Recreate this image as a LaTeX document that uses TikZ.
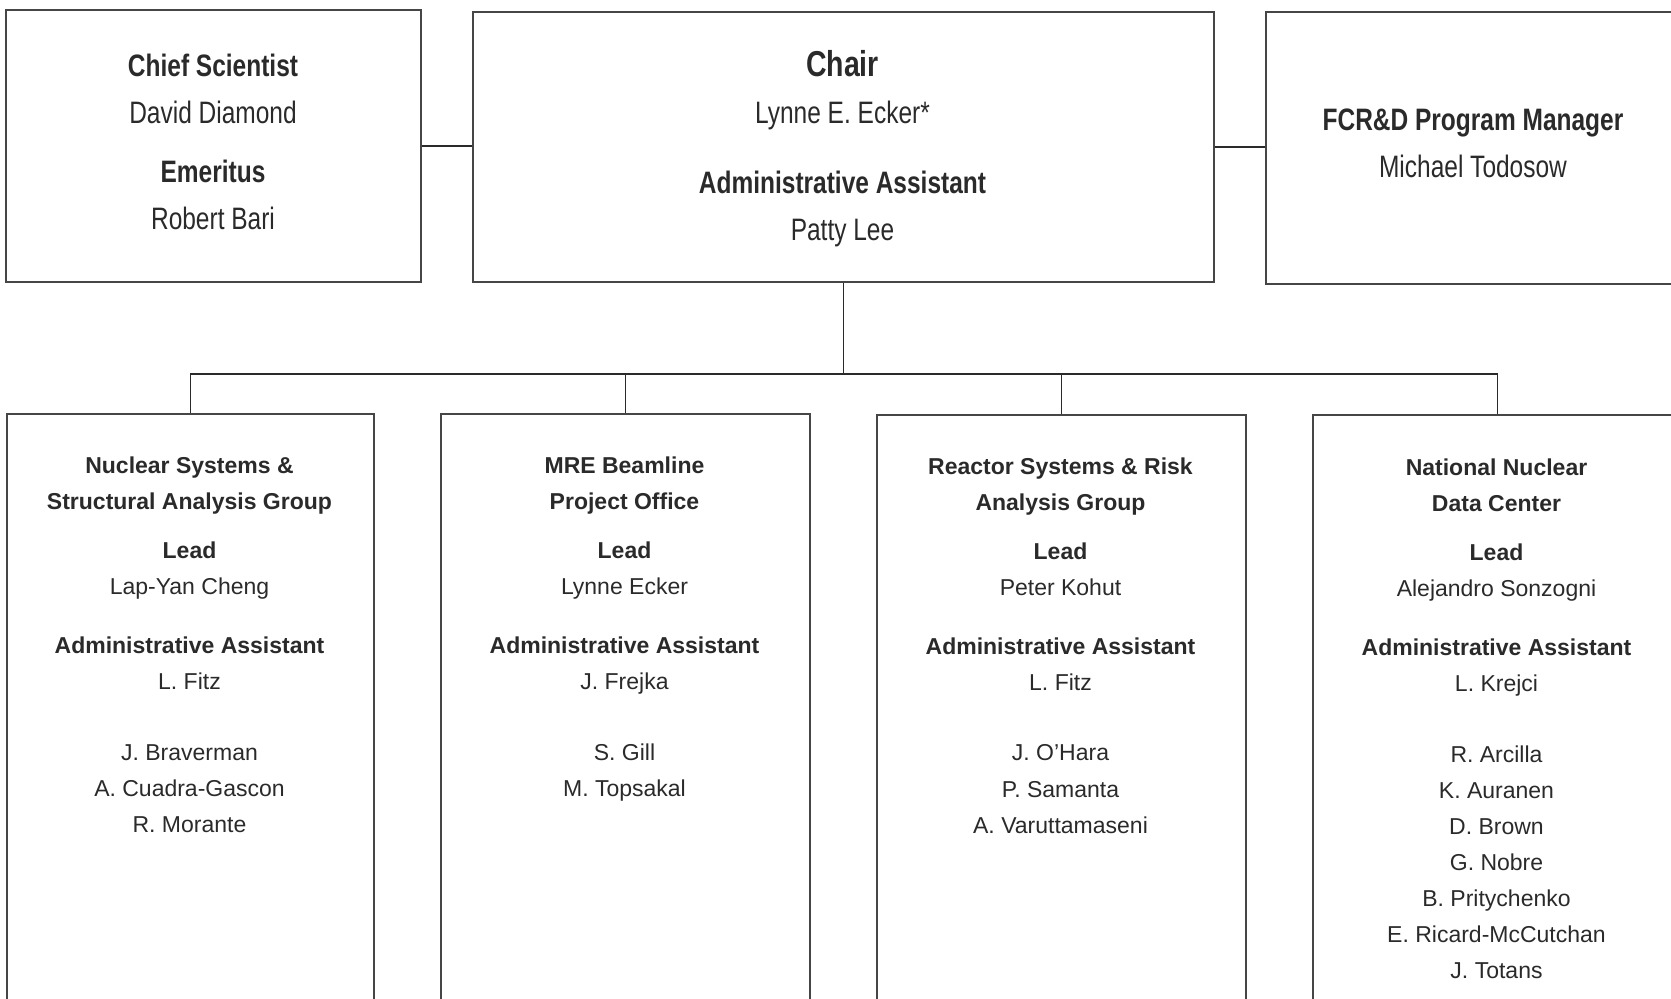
\documentclass[tikz,border=0pt]{standalone}
\usepackage{fontspec}
\setmainfont{Liberation Sans}
\newfontfamily\narrowfont[FakeStretch=0.79]{Liberation Sans}
\definecolor{ink}{HTML}{2A2A2A}
\definecolor{frame}{HTML}{464646}
\tikzset{
  box/.style={draw=frame, line width=1pt, rectangle, anchor=north west, inner sep=0pt},
  toptext/.style={anchor=base, align=center, text=ink, font=\narrowfont\fontsize{15.5}{23.5}\selectfont},
  grouptext/.style={anchor=base, align=center, text=ink, font=\fontsize{11.5}{18}\selectfont},
  link/.style={draw=ink, line width=0.7pt}
}
\begin{document}
\begin{tikzpicture}[x=0.5pt, y={(0pt,-0.5pt)}]
    \useasboundingbox (0,0) rectangle (1671,999);
    \clip (0,0) rectangle (1671,999);
    \node[box, minimum width=207.5pt, minimum height=136pt] (chief) at (5,9) {};
    \node[box, minimum width=370.5pt, minimum height=135pt] (chair) at (472,11) {};
    \node[box, minimum width=217.5pt, minimum height=136pt] (fcrd) at (1265,11) {};
    \node[box, minimum width=183.5pt, minimum height=350pt] (nsg) at (6,413) {};
    \node[box, minimum width=184.5pt, minimum height=350pt] (mre) at (440,413) {};
    \node[box, minimum width=184.5pt, minimum height=350pt] (rsr) at (876,414) {};
    \node[box, minimum width=184.5pt, minimum height=350pt] (nndc) at (1312,414) {};

    \node[toptext] (chieftext) at (213,230) {{\bfseries Chief Scientist}\\ David Diamond\\[6pt] {\bfseries Emeritus}\\ Robert Bari};
    \node[toptext] (chairtext) at (842.5,241) {{\fontsize{18}{23.5}\selectfont\bfseries Chair}\\ Lynne E. Ecker*\\[11.5pt] {\bfseries Administrative Assistant}\\ Patty Lee};
    \node[toptext] (fcrdtext) at (1473,178) {{\bfseries FCR\&D Program Manager}\\ Michael Todosow};

    \node[grouptext] (nsgtext) at (189.5,832) {{\bfseries Nuclear Systems \&}\\ {\bfseries Structural Analysis Group}\\[6.5pt] {\bfseries Lead}\\ Lap-Yan Cheng\\[11.5pt] {\bfseries Administrative Assistant}\\ L. Fitz\\[17.5pt] J. Braverman\\ A. Cuadra-Gascon\\ R. Morante};
    \node[grouptext] (mretext) at (624.5,796) {{\bfseries MRE Beamline}\\ {\bfseries Project Office}\\[6.5pt] {\bfseries Lead}\\ Lynne Ecker\\[11.5pt] {\bfseries Administrative Assistant}\\ J. Frejka\\[17.5pt] S. Gill\\ M. Topsakal};
    \node[grouptext] (rsrtext) at (1060.5,833) {{\bfseries Reactor Systems \& Risk}\\ {\bfseries Analysis Group}\\[6.5pt] {\bfseries Lead}\\ Peter Kohut\\[11.5pt] {\bfseries Administrative Assistant}\\ L. Fitz\\[17.5pt] J. O’Hara\\ P. Samanta\\ A. Varuttamaseni};
    \node[grouptext] (nndctext) at (1496.5,978) {{\bfseries National Nuclear}\\ {\bfseries Data Center}\\[6.5pt] {\bfseries Lead}\\ Alejandro Sonzogni\\[11.5pt] {\bfseries Administrative Assistant}\\ L. Krejci\\[17.5pt] R. Arcilla\\ K. Auranen\\ D. Brown\\ G. Nobre\\ B. Pritychenko\\ E. Ricard-McCutchan\\ J. Totans};

    \draw[link] (chief.east) -- (chief.east -| chair.west);
    \draw[link] (chair.east) -- (chair.east -| fcrd.west);
    \coordinate (bus) at ([yshift=-45.5pt]chair.south);
    \draw[link] (chair.south) -- (bus);
    \foreach \grp in {nsg,mre,rsr,nndc}
        \draw[link] (\grp.north) |- (bus);
\end{tikzpicture}
\end{document}
